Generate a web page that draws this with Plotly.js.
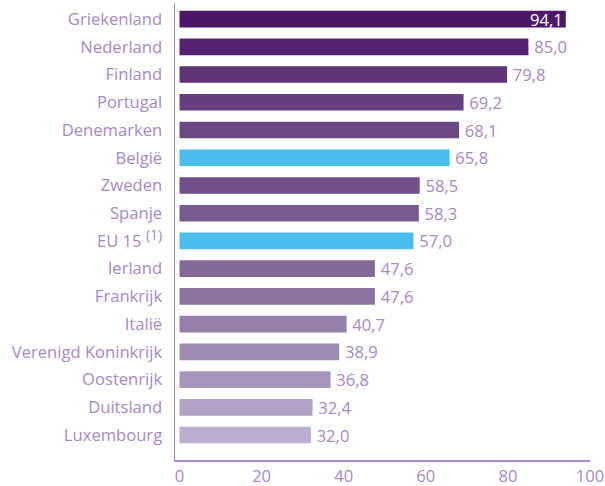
<!DOCTYPE html>
<html>
<head>
<meta charset="utf-8">
<script src="https://cdn.plot.ly/plotly-3.0.1.min.js"></script>
<style>html,body{margin:0;padding:0;background:#fff;}#chart{width:605px;height:486px;}</style>
</head>
<body>
<div id="chart"></div>
<script>
// Data (top to bottom as in the reference)
var countries = ["Griekenland","Nederland","Finland","Portugal","Denemarken","België","Zweden","Spanje","EU 15 <sup><span style='font-size:14px'>(1)</span></sup>","Ierland","Frankrijk","Italië","Verenigd Koninkrijk","Oostenrijk","Duitsland","Luxembourg"];
var values = [94.1, 85.0, 79.8, 69.2, 68.1, 65.8, 58.5, 58.3, 57.0, 47.6, 47.6, 40.7, 38.9, 36.8, 32.4, 32.0];
var barColors = ["#4c1766","#552270","#5e3574","#663f7f","#6b4a84","#49bdec","#704f8a","#775a8e","#49bdec","#836b99","#8c74a1","#9580aa","#9d8aaf","#a796bb","#b2a2c5","#bcaece"];
var tickVals = [0, 20, 40, 60, 80, 100];

var labelColor = "#a689c4";
var fontFam = "'Open Sans', 'Noto Sans', sans-serif";
var fs = 16.6;

var yCats = countries.slice().reverse();
var xVals = values.slice().reverse();
var cols = barColors.slice().reverse();
var maxV = Math.max.apply(null, values);
var txt = xVals.map(function(v){
  var s = v.toFixed(1).replace('.', ',');
  return v === maxV ? s : '\u2009' + s;
});
var pos = xVals.map(function(v){ return v === maxV ? 'inside' : 'outside'; });
var txtCols = xVals.map(function(v){ return v === maxV ? '#ffffff' : labelColor; });

var trace = {
  type: 'bar',
  orientation: 'h',
  y: yCats,
  x: xVals,
  marker: {color: cols},
  text: txt,
  textposition: pos,
  insidetextanchor: 'end',
  constraintext: 'none',
  textfont: {family: fontFam, size: fs, color: txtCols},
  outsidetextfont: {family: fontFam, size: fs, color: labelColor},
  insidetextfont: {family: fontFam, size: fs, color: '#ffffff'},
  cliponaxis: false,
  hoverinfo: 'none'
};

var layout = {
  width: 605,
  height: 486,
  margin: {l: 174.5, r: 15, t: 3, b: 26, pad: 0},
  paper_bgcolor: '#ffffff',
  plot_bgcolor: '#ffffff',
  bargap: 0.4,
  showlegend: false,
  font: {family: fontFam, color: labelColor, size: fs},
  xaxis: {
    range: [-1.1, 100],
    tickvals: tickVals,
    ticktext: tickVals.map(String),
    showgrid: false,
    zeroline: false,
    showline: true,
    linecolor: '#a88bc8',
    linewidth: 1.5,
    ticks: '',
    ticklabelstandoff: 1,
    tickfont: {family: fontFam, size: fs, color: labelColor},
    fixedrange: true
  },
  yaxis: {
    type: 'category',
    categoryorder: 'array',
    categoryarray: yCats,
    range: [-0.9, 15.58],
    showgrid: false,
    zeroline: false,
    showline: true,
    linecolor: '#a88bc8',
    linewidth: 1.5,
    ticks: '',
    ticklabelstandoff: 8,
    tickfont: {family: fontFam, size: fs, color: labelColor},
    fixedrange: true
  }
};

Plotly.newPlot('chart', [trace], layout, {displayModeBar: false, staticPlot: true});
</script>
</body>
</html>
